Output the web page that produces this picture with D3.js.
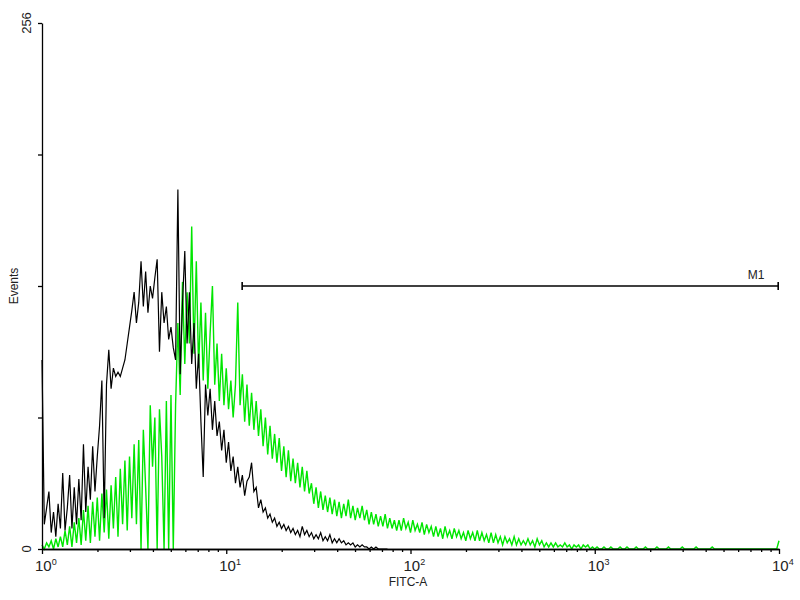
<!DOCTYPE html>
<html>
<head>
<meta charset="utf-8">
<script src="https://cdn.jsdelivr.net/npm/d3@7"></script>
<style>
  html, body { margin: 0; padding: 0; background: #fff; }
  svg { display: block; font-family: "Liberation Sans", Arial, sans-serif; }
</style>
</head>
<body>
<svg id="chart" width="800" height="600"></svg>
<script>
// Histogram bins: 80 bins per decade, bin i sits at FITC = 10^(i/80)
const binsPerDecade = 80;

const controlCounts = [
  92,12,20,28,8,18,6,22,10,37,9,20,36,10,30,12,34,14,51,18,
  40,24,50,28,45,60,82,15,80,97,78,88,84,86,84,88,92,100,108,116,
  125,110,120,140,118,135,115,128,122,132,141,96,125,110,118,102,108,98,92,175,
  85,120,145,100,125,90,110,78,95,62,35,80,65,78,58,72,55,62,48,58,
  42,52,38,45,32,40,30,36,26,33,35,42,28,30,20,24,18,20,15,17,
  13,15,11,13,10,12,9,11,8,10,7,9,6,11,7,9,6,8,5,7,
  5,8,4,6,4,7,3,5,3,5,3,4,2,3,2,3,1,2,1,2,
  1,1,0,1,0,1,0,0,0,0,0
];

const sampleCounts = [
  2,0,3,1,4,0,5,1,6,1,9,2,11,1,13,3,15,2,19,4,
  21,3,23,6,25,4,27,8,29,5,31,10,35,6,39,12,43,9,45,15,
  51,12,53,0,58,30,0,70,40,64,0,68,45,0,72,0,75,0,70,110,
  75,130,90,125,100,157,95,140,88,120,82,115,78,105,128,80,100,72,95,70,
  88,68,82,64,80,120,70,85,62,80,60,76,58,72,55,68,50,64,46,60,
  44,56,42,54,38,50,35,48,33,44,32,42,30,40,28,38,27,32,22,30,
  20,28,19,26,18,25,17,24,16,23,15,22,16,24,15,21,14,20,15,21,
  14,19,12,18,12,17,11,16,11,17,10,15,10,14,9,14,9,15,10,13,
  8,14,9,12,8,13,7,12,8,11,6,11,6,10,5,11,6,9,5,10,
  6,9,5,8,4,9,5,8,4,9,4,8,4,7,3,8,3,7,3,6,
  2,6,3,5,2,6,2,5,2,4,2,5,2,4,1,5,2,4,1,3,
  1,3,1,3,1,2,1,3,1,2,0,2,1,2,0,2,1,2,0,1,
  0,1,0,0,1,0,0,1,0,0,0,1,0,0,1,0,0,0,1,0,
  0,0,1,0,0,0,0,1,0,0,0,0,1,0,0,0,0,0,1,0,
  0,0,0,0,1,0,0,0,0,0,0,1,0,0,0,0,0,0,0,0,
  0,0,0,0,0,0,0,0,0,0,0,0,0,0,0,0,0,0,0,0,
  4
];

const xMajorTicks = [1, 10, 100, 1000, 10000];
const xMajorExp = ["0", "1", "2", "3", "4"];
const yTicks = [0, 64, 128, 192, 256];
const yTickLabels = [[0, "0"], [256, "256"]];
const marker = { label: "M1", from: 12.2, to: 9900, level: 128 };
const xTitle = "FITC-A";
const yTitle = "Events";

(function () {
const svg = d3.select("#chart");
const mLeft = 42, mRight = 779, mTop = 23, mBottom = 549;

const x = d3.scaleLog().domain([1, 10000]).range([mLeft, mRight]);
const y = d3.scaleLinear().domain([0, 256]).range([mBottom, mTop]);

const toPoints = arr => arr.map((c, i) => [Math.pow(10, i / binsPerDecade), c]);
const histLine = d3.line().x(d => x(d[0])).y(d => y(d[1]));

// sample (green) first, control (black) on top
svg.append("path")
  .datum(toPoints(sampleCounts))
  .attr("d", histLine)
  .attr("fill", "none")
  .attr("stroke", "#00e600")
  .attr("stroke-width", 1.4)
  .attr("stroke-linejoin", "miter");

svg.append("path")
  .datum(toPoints(controlCounts))
  .attr("d", histLine)
  .attr("fill", "none")
  .attr("stroke", "#000")
  .attr("stroke-width", 1.2);

// X axis
const minor = [];
for (let d = 0; d < 4; d++) for (let k = 2; k <= 9; k++) minor.push(k * Math.pow(10, d));

const xAxisMinor = svg.append("g").attr("transform", `translate(0,${mBottom})`)
  .call(d3.axisBottom(x).tickValues(minor).tickSize(3).tickFormat("").tickSizeOuter(0));
const xAxisMajor = svg.append("g").attr("transform", `translate(0,${mBottom})`)
  .call(d3.axisBottom(x).tickValues(xMajorTicks).tickSize(5).tickFormat("").tickSizeOuter(0));
[xAxisMinor, xAxisMajor].forEach(g => {
  g.selectAll("path,line").attr("stroke", "#000").attr("stroke-width", 1.3);
});

xMajorTicks.forEach((v, i) => {
  const t = svg.append("text")
    .attr("x", x(v) - 7)
    .attr("y", 571)
    .attr("font-size", 15)
    .attr("fill", "#222");
  t.append("tspan").text("10");
  t.append("tspan").attr("dy", -6).attr("font-size", 9).text(xMajorExp[i]);
});

svg.append("text")
  .attr("x", 408).attr("y", 586)
  .attr("text-anchor", "middle")
  .attr("font-size", 12)
  .attr("fill", "#222")
  .text(xTitle);

// Y axis
const yAxis = svg.append("g").attr("transform", `translate(${mLeft},0)`)
  .call(d3.axisLeft(y).tickValues(yTicks).tickSize(4).tickFormat("").tickSizeOuter(0));
yAxis.selectAll("path,line").attr("stroke", "#000").attr("stroke-width", 1.3);

yTickLabels.forEach(([v, s]) => {
  svg.append("text")
    .attr("transform", `translate(31,${y(v)}) rotate(-90)`)
    .attr("text-anchor", "middle")
    .attr("font-size", 13)
    .attr("fill", "#222")
    .text(s);
});

svg.append("text")
  .attr("transform", `translate(18,${y(128)}) rotate(-90)`)
  .attr("text-anchor", "middle")
  .attr("font-size", 12)
  .attr("fill", "#222")
  .text(yTitle);

// Marker M1
const my = y(marker.level);
svg.append("line")
  .attr("x1", x(marker.from)).attr("x2", x(marker.to))
  .attr("y1", my).attr("y2", my)
  .attr("stroke", "#000").attr("stroke-width", 1.3);
[marker.from, marker.to].forEach(v => {
  svg.append("line")
    .attr("x1", x(v)).attr("x2", x(v))
    .attr("y1", my - 4).attr("y2", my + 4)
    .attr("stroke", "#000").attr("stroke-width", 1.6);
});
svg.append("text")
  .attr("x", x(marker.to) - 22).attr("y", my - 7)
  .attr("text-anchor", "middle")
  .attr("font-size", 12)
  .attr("fill", "#222")
  .text(marker.label);
})();
</script>
</body>
</html>
